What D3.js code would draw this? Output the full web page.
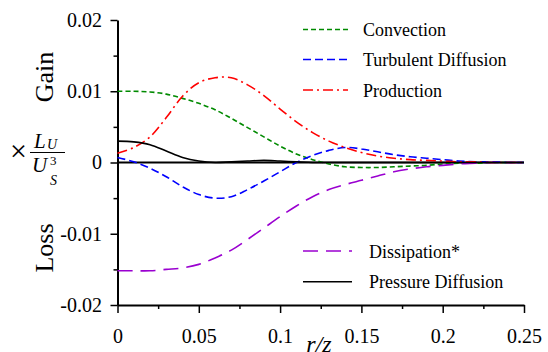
<!DOCTYPE html>
<html>
<head>
<meta charset="utf-8">
<script src="https://cdn.jsdelivr.net/npm/d3@7"></script>
<style>
  body { margin: 0; background: #fff; }
  svg { display: block; }
  svg text { font-family: "Liberation Serif", "Times New Roman", serif; fill: #000; }
</style>
</head>
<body>
<svg id="chart" width="548" height="352"></svg>
<script>
// r/z positions
const rz = [0, 0.01, 0.02, 0.03, 0.04, 0.05, 0.06, 0.07, 0.08, 0.09, 0.1, 0.11, 0.12,
            0.13, 0.14, 0.15, 0.16, 0.17, 0.18, 0.19, 0.2, 0.21, 0.22, 0.23, 0.24, 0.25];

const convection = [0.0100, 0.0100, 0.0099, 0.0096, 0.0090, 0.0083, 0.0074, 0.0062, 0.0049, 0.0036,
                    0.0023, 0.0012, 0.0004, -0.0002, -0.0006, -0.0007, -0.0007, -0.0006, -0.0005,
                    -0.0004, -0.0002, -0.0001, -0.0001, 0, 0, 0];
const turbulent = [0.0007, 0.0001, -0.0008, -0.0020, -0.0034, -0.0045, -0.0050, -0.0048, -0.0038, -0.0026,
                   -0.0013, 0.0000, 0.0010, 0.0017, 0.0021, 0.0019, 0.0015, 0.0011, 0.0008,
                   0.0006, 0.0004, 0.0002, 0.0001, 0.0001, 0, 0];
const production = [0.0013, 0.0021, 0.0036, 0.0063, 0.0093, 0.0112, 0.0119, 0.0119, 0.0109, 0.0094,
                    0.0075, 0.0057, 0.0042, 0.0030, 0.0021, 0.0014, 0.0009, 0.0006, 0.0004,
                    0.0003, 0.0002, 0.0001, 0.0001, 0, 0, 0];
const dissipation = [-0.0152, -0.0152, -0.0152, -0.0150, -0.0148, -0.0143, -0.0134, -0.0123, -0.0108, -0.0092,
                     -0.0076, -0.0061, -0.0048, -0.0038, -0.0031, -0.0025, -0.0019, -0.0013, -0.0009,
                     -0.0006, -0.0004, -0.0002, -0.0001, 0, 0, 0];
const pressure = [0.0030, 0.0029, 0.0025, 0.0016, 0.0007, 0.0002, 0.0000, 0.0001, 0.0002, 0.0003,
                  0.0002, 0.0001, 0.0000, 0, 0, 0, 0, 0, 0, 0, 0, 0, 0, 0, 0, 0];

const xTicks = [0, 0.05, 0.1, 0.15, 0.2, 0.25];
const xTickLabels = ["0", "0.05", "0.1", "0.15", "0.2", "0.25"];
const yTicks = [-0.02, -0.01, 0, 0.01, 0.02];
const yTickLabels = ["-0.02", "-0.01", "0", "0.01", "0.02"];

const series = [
    {name: "Convection", values: convection, color: "#008a00", dash: "5,3", group: "top"},
    {name: "Turbulent Diffusion", values: turbulent, color: "#0000ff", dash: "8,4", group: "top"},
    {name: "Production", values: production, color: "#ff0000", dash: "10,4,2,4", group: "top"},
    {name: "Dissipation*", values: dissipation, color: "#9a00d0", dash: "15,8", group: "bottom"},
    {name: "Pressure Diffusion", values: pressure, color: "#000000", dash: null, group: "bottom"}
];

const svg = d3.select("#chart");
const x = d3.scaleLinear().domain([0, 0.25]).range([117.5, 524]);
const y = d3.scaleLinear().domain([-0.02, 0.02]).range([305, 20]);

// minor ticks
svg.append("g")
    .attr("transform", `translate(0,${y(-0.02)})`)
    .call(d3.axisBottom(x).tickValues([0.025, 0.075, 0.125, 0.175, 0.225]).tickSize(4).tickFormat(""))
    .call(g => g.select(".domain").remove())
    .selectAll("line").attr("stroke-width", 1.5);
svg.append("g")
    .attr("transform", `translate(${x(0)},0)`)
    .call(d3.axisLeft(y).tickValues([-0.015, -0.005, 0.005, 0.015]).tickSize(4).tickFormat(""))
    .call(g => g.select(".domain").remove())
    .selectAll("line").attr("stroke-width", 1.5);

// main axes
const xAxis = svg.append("g")
    .attr("transform", `translate(0,${y(-0.02)})`)
    .call(d3.axisBottom(x).tickValues(xTicks).tickSize(8).tickSizeOuter(0).tickPadding(16)
        .tickFormat((d, i) => xTickLabels[i]));
const yAxis = svg.append("g")
    .attr("transform", `translate(${x(0)},0)`)
    .call(d3.axisLeft(y).tickValues(yTicks).tickSize(7).tickSizeOuter(0).tickPadding(8.5)
        .tickFormat((d, i) => yTickLabels[i]));
[xAxis, yAxis].forEach(g => {
    g.attr("font-family", null).attr("font-size", null);
    g.select(".domain").attr("stroke-width", 2);
    g.selectAll(".tick line").attr("stroke-width", 1.5);
    g.selectAll("text").style("font-size", "20px");
});

// zero line
svg.append("line")
    .attr("x1", x(0)).attr("x2", x(0.25))
    .attr("y1", y(0)).attr("y2", y(0))
    .attr("stroke", "#000").attr("stroke-width", 2);

const line = d3.line()
    .x((d, i) => x(rz[i]))
    .y(d => y(d))
    .curve(d3.curveCatmullRom.alpha(0.5));

svg.selectAll(".curve")
    .data(series)
    .enter()
    .append("path")
    .attr("class", "curve")
    .attr("fill", "none")
    .attr("stroke", d => d.color)
    .attr("stroke-width", 1.6)
    .attr("stroke-dasharray", d => d.dash)
    .attr("d", d => line(d.values));

// legend
const legendTop = series.filter(s => s.group === "top");
const legendBottom = series.filter(s => s.group === "bottom");
function drawLegend(items, x0, x1, tx, ys) {
    const g = svg.append("g");
    items.forEach((s, i) => {
        g.append("line")
            .attr("x1", x0).attr("x2", x1)
            .attr("y1", ys[i]).attr("y2", ys[i])
            .attr("stroke", s.color).attr("stroke-width", 1.6)
            .attr("stroke-dasharray", s.dash);
        g.append("text")
            .attr("x", tx).attr("y", ys[i] + 6.5)
            .style("font-size", "18px")
            .text(s.name);
    });
}
drawLegend(legendTop, 303, 348, 363, [29.5, 59.5, 90]);
drawLegend(legendBottom, 303, 352, 369, [251, 281.7]);

// y axis titles
svg.append("text")
    .attr("transform", "translate(53,77) rotate(-90)")
    .attr("text-anchor", "middle")
    .style("font-size", "26px")
    .text("Gain");
svg.append("text")
    .attr("transform", "translate(53,248) rotate(-90)")
    .attr("text-anchor", "middle")
    .style("font-size", "26px")
    .text("Loss");

// × L_U / U_S^3
const frac = svg.append("g");
frac.append("text").attr("x", 10).attr("y", 161).style("font-size", "30px").text("×");
const num = frac.append("text").attr("x", 34).attr("y", 148).style("font-size", "21px").style("font-style", "italic");
num.append("tspan").text("L");
num.append("tspan").attr("x", 47).attr("y", 149).style("font-size", "14px").text("U");
frac.append("line").attr("x1", 30).attr("x2", 65).attr("y1", 152.5).attr("y2", 152.5)
    .attr("stroke", "#000").attr("stroke-width", 1);
const den = frac.append("text").attr("x", 32).attr("y", 172).style("font-size", "21px").style("font-style", "italic");
den.append("tspan").text("U");
den.append("tspan").attr("x", 50).attr("y", 165).style("font-size", "13px").style("font-style", "normal").text("3");
den.append("tspan").attr("x", 50).attr("y", 185).style("font-size", "14px").text("S");

// x axis title
svg.append("text")
    .attr("x", 319).attr("y", 352)
    .attr("text-anchor", "middle")
    .style("font-size", "24px")
    .style("font-style", "italic")
    .text("r/z");
</script>
</body>
</html>
